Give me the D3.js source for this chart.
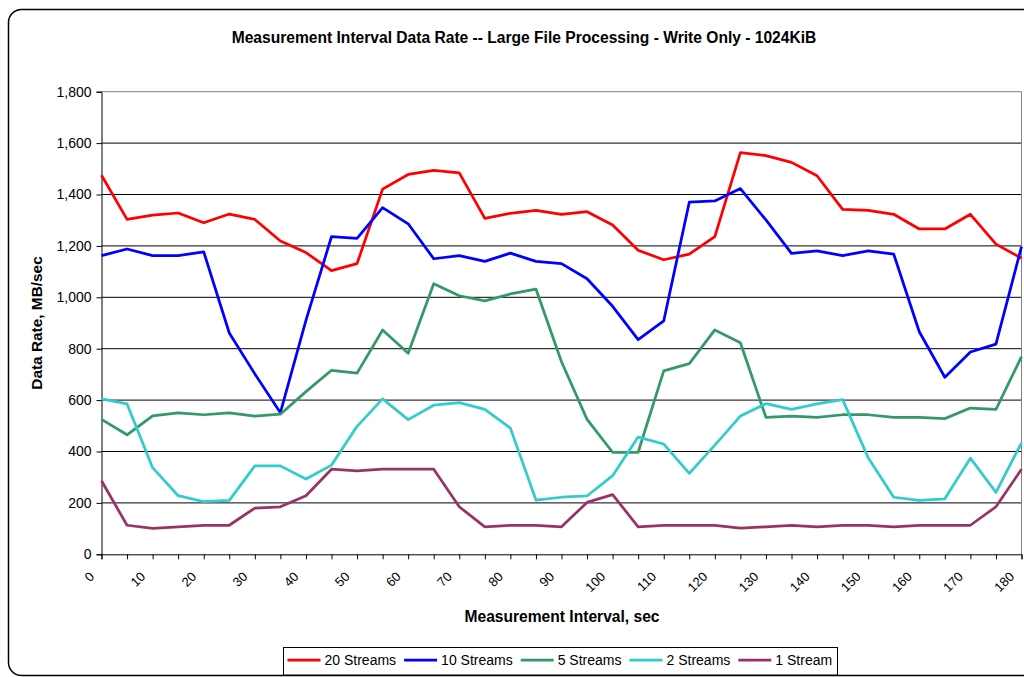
<!DOCTYPE html>
<html>
<head>
<meta charset="utf-8">
<script src="https://cdn.jsdelivr.net/npm/d3@7"></script>
<style>
  body { margin: 0; background: #fff; }
  svg { display: block; font-family: "Liberation Sans", Arial, sans-serif; }
</style>
</head>
<body>
<div id="chart"></div>
<script>
// measurement intervals (sec)
const intervals = [0, 5, 10, 15, 20, 25, 30, 35, 40, 45, 50, 55, 60, 65, 70, 75, 80, 85, 90,
  95, 100, 105, 110, 115, 120, 125, 130, 135, 140, 145, 150, 155, 160, 165, 170, 175, 180];

const streams20 = [1475, 1303, 1320, 1328, 1290, 1324, 1303, 1219, 1174, 1104, 1131, 1421, 1478,
  1494, 1484, 1307, 1327, 1338, 1323, 1333, 1281, 1183, 1146, 1168, 1236, 1563, 1551, 1525, 1473,
  1342, 1338, 1323, 1266, 1266, 1323, 1207, 1152];
const streams10 = [1162, 1188, 1162, 1162, 1177, 861, 702, 551, 910, 1236, 1229, 1349, 1286,
  1150, 1162, 1140, 1172, 1140, 1131, 1072, 965, 835, 908, 1370, 1375, 1423, 1301, 1171, 1181,
  1162, 1181, 1168, 866, 689, 787, 818, 1197];
const streams5 = [525, 465, 539, 550, 543, 550, 538, 545, 633, 716, 705, 873, 782, 1053, 1006,
  986, 1013, 1032, 749, 525, 397, 397, 714, 742, 873, 823, 533, 538, 533, 543, 543, 533, 533, 528,
  569, 564, 769];
const streams2 = [605, 585, 337, 228, 205, 210, 344, 344, 293, 347, 498, 605, 524, 580, 590, 564,
  491, 211, 222, 227, 306, 456, 429, 315, 425, 538, 586, 564, 585, 602, 376, 222, 210, 216, 374,
  241, 434];
const streams1 = [286, 113, 101, 107, 113, 113, 180, 185, 228, 331, 325, 331, 331, 331, 185, 107,
  113, 113, 107, 202, 232, 107, 113, 113, 113, 102, 107, 113, 107, 113, 113, 107, 113, 113, 113,
  185, 331];

const seriesNames = ["20 Streams", "10 Streams", "5 Streams", "2 Streams", "1 Stream"];
const seriesColors = ["#ff0000", "#0000ff", "#339966", "#33cccc", "#993366"];
const yTicks = [0, 200, 400, 600, 800, 1000, 1200, 1400, 1600, 1800];

const series = [streams20, streams10, streams5, streams2, streams1].map((values, i) => ({
  name: seriesNames[i],
  color: seriesColors[i],
  values: values.map((v, j) => ({ t: intervals[j], v })),
}));

const W = 1024, H = 677;
const plot = { left: 101.5, right: 1021.5, top: 91.7, bottom: 554.3 };

const svg = d3.select("#chart").append("svg").attr("width", W).attr("height", H);

// outer chart frame
svg.append("rect")
  .attr("x", 8.5).attr("y", 9.5)
  .attr("width", 1030).attr("height", 666)
  .attr("rx", 13)
  .attr("fill", "none").attr("stroke", "#000").attr("stroke-width", 1.5);

const x = d3.scaleLinear().domain([0, 180]).range([plot.left, plot.right]);
const y = d3.scaleLinear().domain([0, 1800]).range([plot.bottom, plot.top]);

// gridlines
svg.append("g")
  .selectAll("line")
  .data(yTicks.filter((d) => d > 0))
  .join("line")
  .attr("x1", plot.left).attr("x2", plot.right)
  .attr("y1", (d) => y(d)).attr("y2", (d) => y(d))
  .attr("stroke", (d) => (d === 1800 ? "#808080" : "#000"))
  .attr("stroke-width", 1);

// right border of plot area
svg.append("line")
  .attr("x1", plot.right).attr("x2", plot.right)
  .attr("y1", plot.top).attr("y2", plot.bottom)
  .attr("stroke", "#808080");

// y axis
const yAxis = svg.append("g")
  .attr("transform", `translate(${plot.left},0)`)
  .call(d3.axisLeft(y).tickValues(yTicks).tickSize(5).tickPadding(5).tickFormat(d3.format(",")));
yAxis.select(".domain").attr("stroke", "#000");
yAxis.selectAll(".tick line").attr("stroke", "#000");
yAxis.selectAll("text")
  .attr("font-family", "Liberation Sans, Arial, sans-serif")
  .attr("font-size", 14).attr("fill", "#000");

// x axis
const xAxis = svg.append("g")
  .attr("transform", `translate(0,${plot.bottom})`)
  .call(d3.axisBottom(x).tickValues(intervals).tickSize(5)
    .tickFormat((d) => (d % 10 === 0 ? d : "")));
xAxis.select(".domain").attr("stroke", "#000");
xAxis.selectAll(".tick line").attr("stroke", "#000");
xAxis.selectAll("text")
  .attr("font-family", "Liberation Sans, Arial, sans-serif")
  .attr("font-size", 13).attr("fill", "#000")
  .attr("x", 0).attr("y", 0).attr("dy", 0)
  .attr("text-anchor", "end")
  .attr("transform", "translate(-7,23) rotate(-45)");

// lines
const line = d3.line().x((d) => x(d.t)).y((d) => y(d.v));
svg.append("g")
  .selectAll("path")
  .data(series)
  .join("path")
  .attr("fill", "none")
  .attr("stroke", (d) => d.color)
  .attr("stroke-width", 2.75)
  .attr("stroke-linejoin", "round")
  .attr("d", (d) => line(d.values));

// title and axis labels
svg.append("text")
  .attr("x", 524).attr("y", 43)
  .attr("text-anchor", "middle")
  .attr("font-size", 15.6).attr("font-weight", "bold")
  .text("Measurement Interval Data Rate -- Large File Processing - Write Only - 1024KiB");

svg.append("text")
  .attr("transform", "translate(42,323) rotate(-90)")
  .attr("text-anchor", "middle")
  .attr("font-size", 15.4).attr("font-weight", "bold")
  .text("Data Rate, MB/sec");

svg.append("text")
  .attr("x", 562).attr("y", 622)
  .attr("text-anchor", "middle")
  .attr("font-size", 15.6).attr("font-weight", "bold")
  .text("Measurement Interval, sec");

// legend
const legend = svg.append("g").attr("transform", "translate(283.5,647.5)");
legend.append("rect")
  .attr("width", 554).attr("height", 27.5)
  .attr("fill", "#fff").attr("stroke", "#000").attr("stroke-width", 1);
let lx = 4;
series.forEach((s) => {
  const item = legend.append("g").attr("transform", `translate(${lx},0)`);
  item.append("line")
    .attr("x1", 0).attr("x2", 33).attr("y1", 12.5).attr("y2", 12.5)
    .attr("stroke", s.color).attr("stroke-width", 2.75);
  const t = item.append("text")
    .attr("x", 37).attr("y", 17.5)
    .attr("font-size", 14)
    .text(s.name);
  lx += 37 + t.node().getComputedTextLength() + 8;
});
</script>
</body>
</html>
